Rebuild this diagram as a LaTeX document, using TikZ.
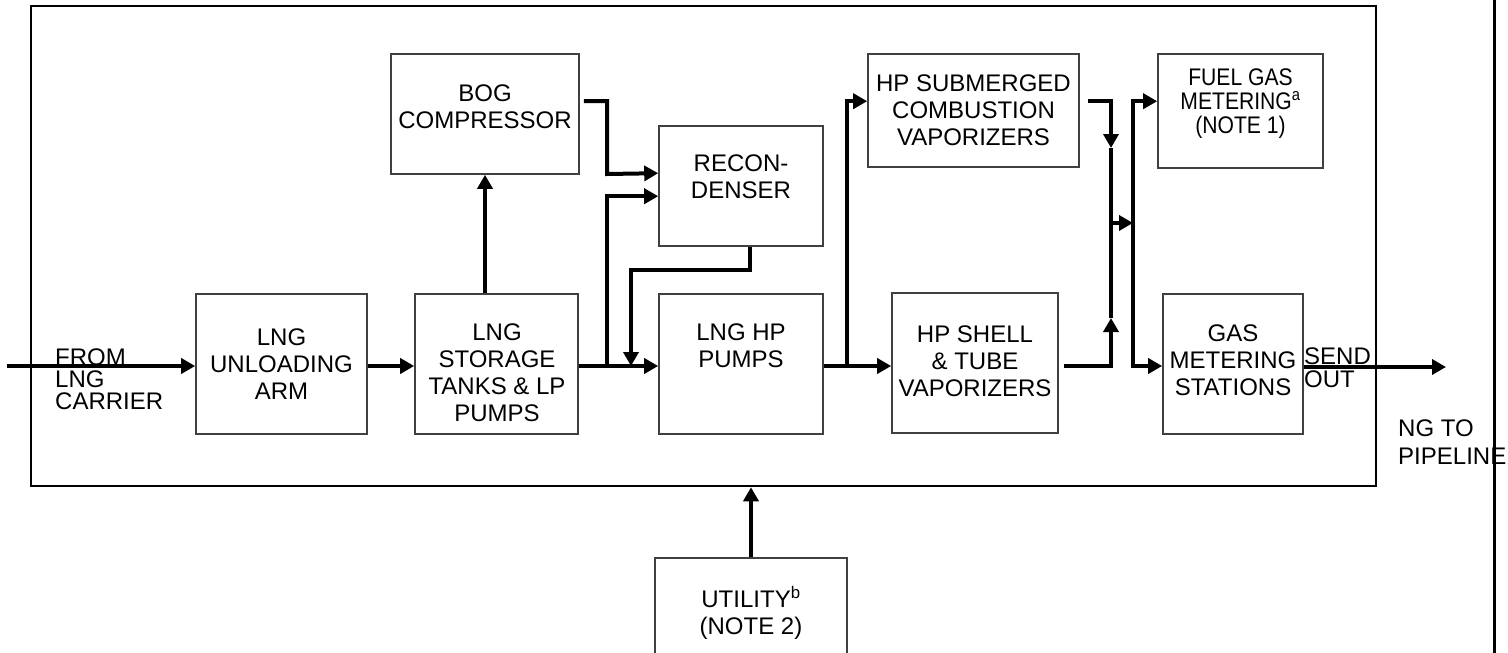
\documentclass[tikz,border=0pt]{standalone}
\usepackage{fontspec}
\setmainfont{Liberation Sans}
\newfontfamily\narrowfont[FakeStretch=0.88]{Liberation Sans}
\usetikzlibrary{arrows.meta,calc}
\begin{document}
\begin{tikzpicture}[x=1pt,y=-1pt,
  frame/.style={draw=black, line width=2.5pt, inner sep=0pt},
  box/.style={draw=black!75, line width=1.6pt, inner sep=0pt},
  lbl/.style={align=center, font=\fontsize{24}{27}\selectfont, inner sep=0pt},
  pipe/.style={line width=4pt},
  flow/.style={line width=4pt, -{Triangle[length=14pt,width=15pt]}}]
\useasboundingbox (0,0) rectangle (1508,653);
\clip (0,0) rectangle (1508,653);
\fill[white] (0,0) rectangle (1508,653);

% plant boundary
\node[frame, minimum width=1345pt, minimum height=480pt] (plant) at (703.5,246) {};

% boxes
\node[box, minimum width=171pt, minimum height=140pt] (unl) at (281.5,364) {};
\node[box, minimum width=163pt, minimum height=140pt] (sto) at (496.5,364) {};
\node[box, minimum width=188pt, minimum height=120pt] (bog) at (485,114) {};
\node[box, minimum width=164pt, minimum height=120pt] (rec) at (741,186) {};
\node[box, minimum width=164pt, minimum height=140pt] (hpp) at (741,364) {};
\node[box, minimum width=211pt, minimum height=113pt] (sub) at (973.5,110.5) {};
\node[box, minimum width=166pt, minimum height=140pt] (she) at (975,363) {};
\node[box, minimum width=165pt, minimum height=114pt] (fue) at (1240.5,111) {};
\node[box, minimum width=140pt, minimum height=140pt] (gas) at (1233,364) {};
\node[box, minimum width=192pt, minimum height=150pt] (uti) at (751,633) {};

% connectors
\coordinate (src) at (7,366);
\coordinate (j1) at (607,366);
\coordinate (j2) at (847,366);
\coordinate (out) at (1446,367);
\draw[flow] (src) -- (unl.west |- src);
\draw[flow] (unl.east |- src) -- (sto.west |- src);
\draw[flow] (sto.east |- src) -- (hpp.west |- src);
\draw[flow] (j1) |- ($(rec.north west)+(0,71)$);
\draw[flow] ($(bog.north east)+(4,48)$) -| (607,174) -- ($(rec.north west)+(0,48)$);
\draw[flow] (bog.south |- sto.north) -- (bog.south);
\draw[flow] ($(rec.south west)+(92,0)$) |- (631,270) -- (631,366);
\draw[flow] (hpp.east |- src) -- (she.west |- src);
\draw[flow] (j2) |- ($(sub.north west)+(0,48)$);
\draw[flow] ($(sub.north east)+(8,48)$) -| (1111,148);
\draw[flow] ($(she.east |- src)+(5,0)$) -| (1111,318);
\draw[pipe] (1111,148) -- (1111,318);
\draw[flow] (1111,223) -- (1133,223);
\draw[flow] (1133,223) |- ($(fue.north west)+(0,48)$);
\draw[flow] (1133,223) |- (gas.west |- src);
\draw[flow] (gas.east |- out) -- (out);
\draw[flow] (uti.north) -- (uti.north |- plant.south);

% box labels
\node[lbl] (unlT) at (281.5,364.5) {LNG\\UNLOADING\\ARM};
\node[lbl] (stoT) at (497,373) {LNG\\STORAGE\\TANKS \& LP\\PUMPS};
\node[lbl] (bogT) at (485,106.5) {BOG\\COMPRESSOR};
\node[lbl] (recT) at (741,177) {RECON-\\DENSER};
\node[lbl] (hppT) at (741,345.5) {LNG HP\\PUMPS};
\node[lbl] (subT) at (973.5,110) {HP SUBMERGED\\COMBUSTION\\VAPORIZERS};
\node[lbl] (sheT) at (975,361.5) {HP SHELL\\\& TUBE\\VAPORIZERS};
\node[lbl, font=\narrowfont\fontsize{24}{24}\selectfont] (fueT) at (1240.5,104) {FUEL GAS\\METERING\textsuperscript{a}\\(NOTE 1)};
\node[lbl] (gasT) at (1233,360) {GAS\\METERING\\STATIONS};
\node[lbl] (utiT) at (751,612.5) {UTILITY\textsuperscript{b}\\(NOTE 2)};

% free texts
\node[lbl, align=left, anchor=west, font=\fontsize{24}{22}\selectfont] (carrier) at (55,379) {FROM\\LNG\\CARRIER};
\node[lbl, align=left, anchor=west, font=\fontsize{24}{23}\selectfont] (sendout) at (1304,367.5) {SEND\\OUT};
\node[lbl, align=left, anchor=west, font=\fontsize{24}{28}\selectfont] (ngpipe) at (1398,442) {NG TO\\PIPELINE};

% right edge line
\draw[line width=3pt] (1494,0) -- (1494,653);
\end{tikzpicture}
\end{document}
